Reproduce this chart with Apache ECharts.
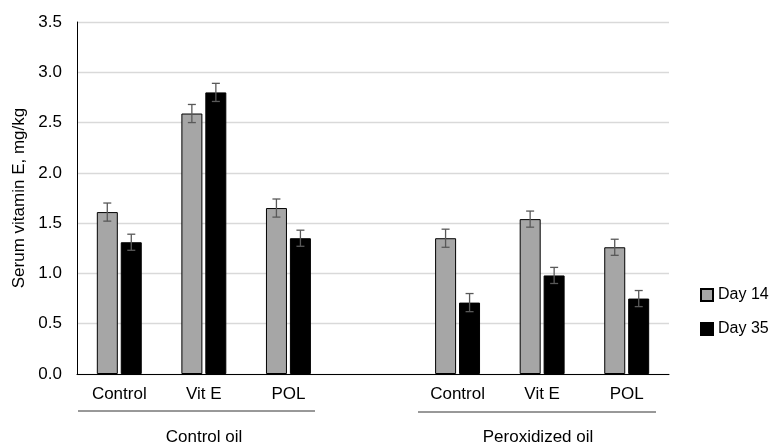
<!DOCTYPE html>
<html>
<head>
<meta charset="utf-8">
<script src="https://cdn.jsdelivr.net/npm/echarts@6/dist/echarts.min.js"></script>
<style>
html,body{margin:0;padding:0;background:#fff;}
#chart{width:771px;height:444px;}
</style>
</head>
<body>
<div id="chart"></div>
<script>
var categories = ['Control', 'Vit E', 'POL', '', 'Control', 'Vit E', 'POL'];
var day14 = [1.61, 2.59, 1.65, null, 1.35, 1.54, 1.26];
var day35 = [1.31, 2.80, 1.35, null, 0.71, 0.98, 0.75];
var err14 = [0.09, 0.09, 0.09, null, 0.09, 0.08, 0.08];
var err35 = [0.08, 0.09, 0.08, null, 0.09, 0.08, 0.08];
var groupNames = ['Control oil', 'Peroxidized oil'];
var seriesNames = ['Day 14', 'Day 35'];

var font = '"Liberation Sans", Arial, sans-serif';
var barW = 21;
var pairOffset = 12; // half of bar + half gap

function errData(vals, errs) {
    var out = [];
    for (var i = 0; i < vals.length; i++) {
        if (vals[i] != null) out.push([i, vals[i], errs[i]]);
    }
    return out;
}

function errSeries(vals, errs, offset) {
    return {
        type: 'custom',
        silent: true,
        z: 10,
        data: errData(vals, errs),
        renderItem: function (params, api) {
            var x = api.value(0), v = api.value(1), e = api.value(2);
            var hi = api.coord([x, v + e]);
            var lo = api.coord([x, v - e]);
            var cx = hi[0] + offset;
            var style = { stroke: '#595959', lineWidth: 1.3 };
            return {
                type: 'group',
                children: [
                    { type: 'line', shape: { x1: cx, y1: hi[1], x2: cx, y2: lo[1] }, style: style },
                    { type: 'line', shape: { x1: cx - 4, y1: hi[1], x2: cx + 4, y2: hi[1] }, style: style },
                    { type: 'line', shape: { x1: cx - 4, y1: lo[1], x2: cx + 4, y2: lo[1] }, style: style }
                ]
            };
        }
    };
}

var chart = echarts.init(document.getElementById('chart'));
var option = {
    animation: false,
    backgroundColor: '#fff',
    textStyle: { fontFamily: font },
    grid: { left: 77, right: 102, top: 22, bottom: 70 },
    legend: {
        orient: 'vertical',
        left: 695,
        top: 282,
        itemWidth: 12,
        itemHeight: 12,
        itemGap: 18,
        icon: 'rect',
        textStyle: { fontFamily: font, fontSize: 16, color: '#000' },
        data: seriesNames
    },
    xAxis: {
        type: 'category',
        data: categories,
        axisLine: { lineStyle: { color: '#000', width: 1 } },
        axisTick: { show: false },
        axisLabel: { color: '#000', fontSize: 17, fontFamily: font, margin: 12, interval: 0 }
    },
    yAxis: {
        type: 'value',
        min: 0,
        max: 3.5,
        interval: 0.5,
        name: 'Serum vitamin E, mg/kg',
        nameLocation: 'middle',
        nameGap: 43,
        nameTextStyle: { color: '#000', fontSize: 17, fontFamily: font },
        axisLine: { show: true, lineStyle: { color: '#000', width: 1 } },
        axisTick: { show: false },
        axisLabel: {
            color: '#000', fontSize: 17, fontFamily: font, margin: 15,
            formatter: function (v) { return v.toFixed(1); }
        },
        splitLine: { lineStyle: { color: '#d9d9d9', width: 1.3 } }
    },
    series: [
        {
            name: seriesNames[0],
            type: 'bar',
            data: day14,
            barWidth: barW,
            barGap: '14%',
            itemStyle: { color: '#a6a6a6', borderColor: '#000', borderWidth: 1 }
        },
        {
            name: seriesNames[1],
            type: 'bar',
            data: day35,
            barWidth: barW,
            barGap: '14%',
            itemStyle: { color: '#000', borderColor: '#000', borderWidth: 1 }
        },
        errSeries(day14, err14, -pairOffset),
        errSeries(day35, err35, pairOffset)
    ],
    graphic: [
        { type: 'line', shape: { x1: 78, y1: 411, x2: 315, y2: 411 }, style: { stroke: '#333', lineWidth: 1 } },
        { type: 'line', shape: { x1: 418, y1: 412, x2: 656, y2: 412 }, style: { stroke: '#333', lineWidth: 1 } },
        { type: 'text', x: 204, y: 437, style: { text: groupNames[0], font: '17px ' + font, fill: '#000', textAlign: 'center', textVerticalAlign: 'middle' } },
        { type: 'text', x: 538, y: 437, style: { text: groupNames[1], font: '17px ' + font, fill: '#000', textAlign: 'center', textVerticalAlign: 'middle' } }
    ]
};
chart.setOption(option);
</script>
</body>
</html>
